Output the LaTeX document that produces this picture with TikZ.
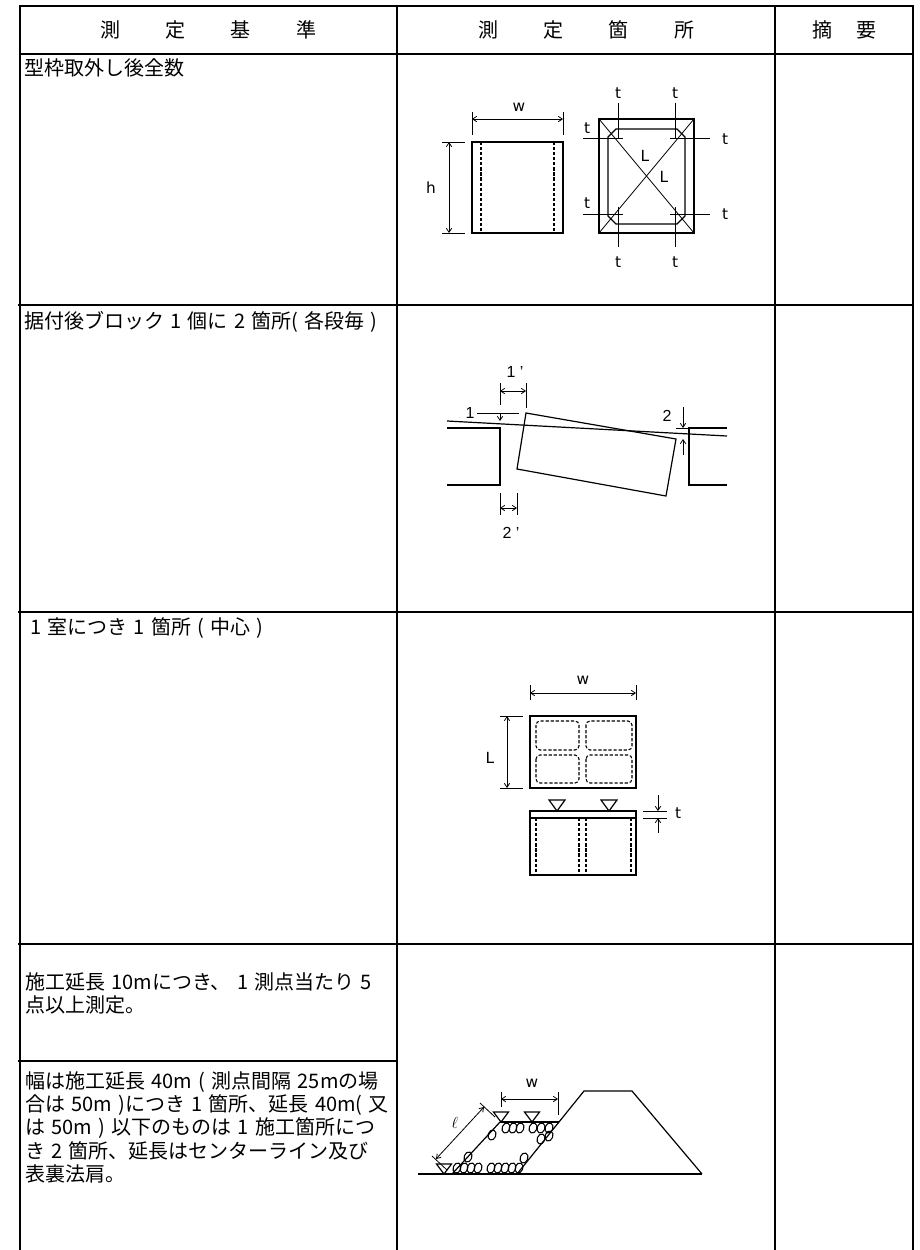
\documentclass[tikz,border=0pt]{standalone}
\usepackage{fontspec}
\setmainfont{Noto Sans CJK JP}[WordSpace=1.4]
\newfontfamily\lblfont{DejaVu Sans}
\newfontfamily\numfont{Liberation Sans}
\usetikzlibrary{arrows.meta}
\pgfdeclarelayer{nodelayer}
\pgfdeclarelayer{edgelayer}
\pgfsetlayers{edgelayer,nodelayer,main}
\tikzstyle{none}=[inner sep=0pt]
\tikzset{head/.style={inner sep=0pt, font=\fontsize{15}{17.4}\selectfont}}
\tikzset{cell/.style={inner sep=0pt, anchor=west, font=\fontsize{15}{17.4}\selectfont}}
\tikzset{para/.style={inner sep=0pt, anchor=north west, align=left, font=\fontsize{15}{17.5}\selectfont}}
\tikzset{lbl/.style={inner sep=0pt, font=\lblfont\fontsize{11.5}{13}\selectfont}}
\tikzset{num/.style={inner sep=0pt, font=\numfont\fontsize{12}{14}\selectfont}}
\tikzset{tabline/.style={line width=0.8pt}}
\tikzset{tabframe/.style={line width=1.7pt, line join=miter}}
\tikzset{partline/.style={line width=0.9pt}}
\tikzset{hidden/.style={line width=0.8pt, dash pattern=on 2.4pt off 1.4pt}}
\tikzset{dimline/.style={line width=0.6pt}}
\tikzset{dimarrow/.style={line width=0.6pt, arrows={Straight Barb[length=3pt,width=4pt]-Straight Barb[length=3pt,width=4pt]}}}
\tikzset{onearrow/.style={line width=0.6pt, arrows={-Straight Barb[length=3pt,width=4pt]}}}

\begin{document}
\begin{tikzpicture}[x=0.75pt, y=-0.75pt]
    \useasboundingbox (0,0) rectangle (920,1250);
    \begin{pgfonlayer}{nodelayer}
        % header
        \node [style=head] (h1) at (208, 30) {測\hspace{34pt}定\hspace{34pt}基\hspace{34pt}準};
        \node [style=head] (h2) at (586, 30) {測\hspace{34pt}定\hspace{34pt}箇\hspace{34pt}所};
        \node [style=head] (h3) at (844, 30) {摘\hspace{18pt}要};
        % left column
        \node [style=cell] (r1) at (24, 68) {型枠取外し後全数};
        \node [style=cell] (r2) at (24, 322) {据付後ブロック 1 個に 2 箇所( 各段毎 )};
        \node [style=cell] (r3) at (30, 628) {1 室につき 1 箇所 ( 中心 )};
        \node [style=para] (r4) at (25, 972) {施工延長 10mにつき、 1 測点当たり 5\\点以上測定。};
        \node [style=para] (r5) at (25, 1071) {幅は施工延長 40m ( 測点間隔 25mの場\\合は 50m )につき 1 箇所、延長 40m( 又\\は 50m ) 以下のものは 1 施工箇所につ\\き 2 箇所、延長はセンターライン及び\\表裏法肩。};
        % fig 1
        \node [style=lbl] (w1) at (519, 107) {w};
        \node [style=lbl] (h1) at (431, 188) {h};
        \node [style=lbl] (L1) at (645, 156) {L};
        \node [style=lbl] (L2) at (664, 177) {L};
        \node [style=lbl] (t1) at (618, 93) {t};
        \node [style=lbl] (t2) at (675, 93) {t};
        \node [style=lbl] (t3) at (618, 262) {t};
        \node [style=lbl] (t4) at (675, 262) {t};
        \node [style=lbl] (t5) at (587, 128) {t};
        \node [style=lbl] (t6) at (587, 203) {t};
        \node [style=lbl] (t7) at (725, 139) {t};
        \node [style=lbl] (t8) at (725, 214) {t};
        % fig 2
        \node [style=num] (d1) at (515, 372) {1 ’};
        \node [style=num] (d2) at (470, 413) {1};
        \node [style=num] (d3) at (667, 416) {2};
        \node [style=num] (d4) at (511, 533) {2 ’};
        % fig 3
        \node [style=lbl] (w3) at (583, 680) {w};
        \node [style=lbl] (L3) at (490, 758) {L};
        \node [style=lbl] (t9) at (678, 813) {t};
        % fig 4
        \node [style=lbl] (w4) at (532, 1083) {w};
        \node [style=none, font=\fontsize{12}{14}\selectfont] (l4) at (455, 1123) {$\ell$};
    \end{pgfonlayer}
    \begin{pgfonlayer}{edgelayer}
        % table
        \draw [style=tabframe] (20, 1250) |- (913, 6) -- (913, 1250);
        \draw [style=tabframe] (20, 54) -- (913, 54);
        \draw [style=tabline] (397, 6) -- (397, 1250);
        \draw [style=tabline] (775, 6) -- (775, 1250);
        \draw [style=tabline] (18, 305) -- (913, 305);
        \draw [style=tabline] (18, 612) -- (913, 612);
        \draw [style=tabline] (18, 944) -- (913, 944);
        \draw [style=tabline] (18, 1061) -- (397, 1061);

        % fig 1: column
        \draw [style=partline] (472, 142) rectangle (563, 233);
        \draw [style=hidden] (481, 142) -- (481, 233);
        \draw [style=hidden] (554, 142) -- (554, 233);
        \draw [style=dimline] (472, 112) -- (472, 135);
        \draw [style=dimline] (563, 112) -- (563, 135);
        \draw [style=dimarrow] (472, 119) -- (563, 119);
        \draw [style=dimline] (442, 142) -- (465, 142);
        \draw [style=dimline] (442, 233) -- (465, 233);
        \draw [style=dimarrow] (449, 142) -- (449, 233);
        % fig 1: frame
        \draw [style=partline] (599, 119) rectangle (694, 233);
        \draw [style=partline] (616, 129) -- (677, 129) -- (685, 137) -- (685, 216) -- (677, 224)
            -- (616, 224) -- (608, 216) -- (608, 137) -- cycle;
        \draw [style=dimline] (599, 119) -- (694, 233);
        \draw [style=dimline] (694, 119) -- (599, 233);
        \foreach \tx in {618, 675} {
            \draw [style=dimline] (\tx, 103) -- (\tx, 139);
            \draw [style=dimline] (\tx, 207) -- (\tx, 247);
        }
        \foreach \ty in {138, 214} {
            \draw [style=dimline] (583, \ty) -- (623, \ty);
            \draw [style=dimline] (670, \ty) -- (710, \ty);
        }

        % fig 2
        \draw [style=partline] (447, 428) -- (500, 428) -- (500, 485) -- (447, 485);
        \draw [style=partline] (727, 428) -- (689, 428) -- (689, 485) -- (727, 485);
        \draw [style=partline] (526, 413) -- (676, 439) -- (666, 496) -- (517, 469) -- cycle;
        \draw [style=partline] (447, 421) -- (727, 436);
        \draw [style=dimline] (500, 383) -- (500, 405);
        \draw [style=dimline] (526, 383) -- (526, 408);
        \draw [style=dimarrow] (500, 391) -- (526, 391);
        \draw [style=dimline] (477, 413) -- (519, 413);
        \draw [style=onearrow] (500, 413) -- (500, 421);
        \draw [style=dimline] (676, 428) -- (689, 428);
        \draw [style=onearrow] (683, 407) -- (683, 428);
        \draw [style=onearrow] (683, 455) -- (683, 439);
        \draw [style=dimline] (500, 493) -- (500, 515);
        \draw [style=dimline] (517, 493) -- (517, 515);
        \draw [style=dimarrow] (500, 508) -- (517, 508);

        % fig 3: plan
        \draw [style=partline] (530, 716) rectangle (636, 788);
        \draw [style=hidden, rounded corners=3pt] (536, 721) rectangle (579, 750);
        \draw [style=hidden, rounded corners=3pt] (586, 721) rectangle (632, 750);
        \draw [style=hidden, rounded corners=3pt] (536, 755) rectangle (579, 783);
        \draw [style=hidden, rounded corners=3pt] (586, 755) rectangle (632, 783);
        \draw [style=dimline] (530, 685) -- (530, 700);
        \draw [style=dimline] (636, 685) -- (636, 700);
        \draw [style=dimarrow] (530, 693) -- (636, 693);
        \draw [style=dimline] (500, 716) -- (523, 716);
        \draw [style=dimline] (500, 788) -- (523, 788);
        \draw [style=dimarrow] (507, 716) -- (507, 788);
        % fig 3: section
        \draw [style=partline] (530, 811) rectangle (636, 875);
        \draw [line width=1.6pt] (530, 811) -- (636, 811);
        \draw [style=partline] (530, 818) -- (636, 818);
        \foreach \hx in {536, 579, 586, 631}
            \draw [style=hidden] (\hx, 818) -- (\hx, 875);
        \foreach \vx in {557, 609}
            \draw [style=partline] (\vx-8, 800) -- (\vx+8, 800) -- (\vx, 811) -- cycle;
        \draw [style=dimline] (643, 811) -- (667, 811);
        \draw [style=dimline] (643, 818) -- (667, 818);
        \draw [style=onearrow] (658, 795) -- (658, 811);
        \draw [style=onearrow] (658, 833) -- (658, 818);

        % fig 4
        \draw [style=partline] (418, 1174) -- (702, 1174);
        \draw [style=partline] (517, 1174) -- (584, 1091) -- (632, 1091) -- (702, 1174);
        \draw [line width=1.4pt] (500, 1122) -- (559, 1122);
        \draw [style=partline] (500, 1122) -- (452, 1174);
        \foreach \ox/\oy in {506/1128, 513/1128, 520/1128, 492/1135,
                             533/1128, 541/1128, 549/1128, 541/1139, 549/1136,
                             457/1168, 464/1168, 471/1168, 478/1168,
                             491/1168, 498/1168, 505/1168, 512/1168, 519/1168,
                             468/1157, 524/1158}
            \draw [line width=0.8pt, rotate around={-20:(\ox, \oy)}] (\ox, \oy) ellipse [x radius=2.9pt, y radius=3.9pt];
        \foreach \vx/\vy in {501/1122, 532/1122, 444/1174}
            \draw [style=partline, fill=white] (\vx-7.5, \vy-10) -- (\vx+7.5, \vy-10) -- (\vx, \vy) -- cycle;
        \draw [style=dimline] (501, 1092) -- (501, 1107);
        \draw [style=dimline] (558, 1092) -- (558, 1115);
        \draw [style=dimarrow] (501, 1099) -- (558, 1099);
        \draw [style=dimline] (495, 1117) -- (480, 1103);
        \draw [style=dimline] (447, 1170) -- (432, 1156);
        \draw [style=dimarrow] (436, 1159) -- (484, 1107);
    \end{pgfonlayer}
\end{tikzpicture}
\end{document}
